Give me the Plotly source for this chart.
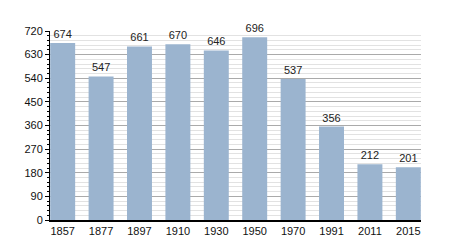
import plotly.graph_objects as go

years = ["1857", "1877", "1897", "1910", "1930", "1950", "1970", "1991", "2011", "2015"]
population = [674, 547, 661, 670, 646, 696, 537, 356, 212, 201]
y_ticks = [0, 90, 180, 270, 360, 450, 540, 630, 720]

fig = go.Figure(go.Bar(
    x=years, y=population,
    text=[str(v) for v in population], textposition="outside",
    textfont=dict(size=11, color="#222", family="Liberation Sans, Arial"),
    marker=dict(color="#9bb4cf", line=dict(width=0)),
    cliponaxis=False,
))
fig.update_layout(
    width=450, height=250,
    margin=dict(l=50, r=29, t=31, b=30),
    paper_bgcolor="white", plot_bgcolor="white",
    bargap=0.35, showlegend=False,
    font=dict(family="Liberation Sans, Arial", size=11, color="#111"),
)
fig.update_xaxes(type="category", range=[-0.33, 9.33], showline=True, linecolor="black",
                 linewidth=1.5, ticks="", showgrid=False, tickfont=dict(size=11))
fig.update_yaxes(range=[0, 720], tickvals=y_ticks, showline=True, linecolor="black",
                 linewidth=1, ticks="outside", ticklen=4, tickcolor="black",
                 gridcolor="#aaaaaa", gridwidth=1, zeroline=False,
                 minor=dict(dtick=18, ticks="outside", ticklen=2, tickcolor="black",
                            showgrid=True, gridcolor="#e2e2e2", gridwidth=1),
                 tickfont=dict(size=11))
fig.write_html("out.html")
